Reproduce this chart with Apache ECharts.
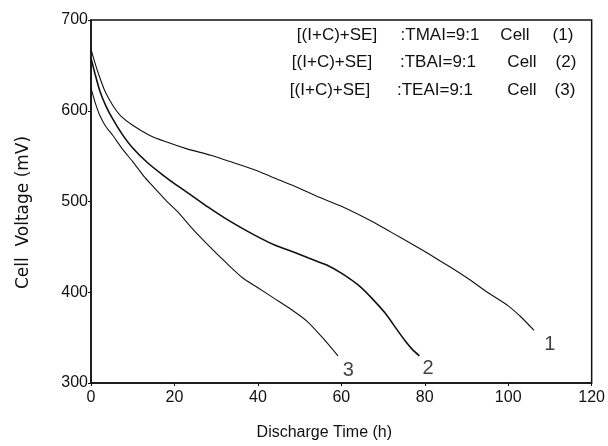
<!DOCTYPE html>
<html><head><meta charset="utf-8">
<script src="https://cdn.jsdelivr.net/npm/echarts@6/dist/echarts.min.js"></script>
<style>html,body{margin:0;padding:0;background:#fff}#c{width:608px;height:446px}</style>
</head><body><div id="c"></div>
<script>
var xTicks = [0, 20, 40, 60, 80, 100, 120];
var yTicks = [300, 400, 500, 600, 700];
var cell1 = [[0,668],[1,652],[2,638],[3.3,622],[5.2,606],[7,595],[10,584],[14,573],[17.8,566],[23,558],[28.7,551],[34,543],[39.8,534],[43.3,527],[48.7,517],[54,506],[60.4,494],[67.4,478],[72,466],[77,453],[81.4,441],[86,428],[90.7,414],[95,400],[100,385],[103,373],[106.2,358]];
var cell2 = [[0,658],[1,640],[2.1,622],[3.5,606],[5.2,591],[7.5,574],[10,559],[13.5,543],[17,530],[20.5,518],[24,507],[28,494],[32,482],[38,466],[44,452],[48.7,444],[52,438],[56.5,430],[60,421],[64.3,407],[67.4,393],[70.5,377],[73,361],[75.2,347],[77,337],[78.7,330]];
var cell3 = [[0,625],[1,609],[2.1,595],[3.5,583],[5.2,573],[7.5,558],[10,544],[13,526],[15.4,514],[18,501],[20.7,489],[24.5,469],[28.5,450],[32.5,432],[36.3,416],[40,405],[44,393],[48,381],[51.8,368],[55.5,350],[59.2,330]];
var curveLabels = [[110,342,'1'],[80.8,316,'2'],[61.7,314,'3']];
var legendPrefix = ['[(I+C)+SE]', '[(I+C)+SE]', '[(I+C)+SE]'];
var legendSalt = [':TMAI=9:1', ':TBAI=9:1', ':TEAI=9:1'];
var legendCell = ['Cell', 'Cell', 'Cell'];
var legendNum = ['(1)', '(2)', '(3)'];

var chart = echarts.init(document.getElementById('c'));
var font = 'Liberation Sans';
function lineSeries(d, w) {
  return {type:'line', data:d, smooth:0.2, showSymbol:false, symbol:'none',
    lineStyle:{color:'#111', width:w}, animation:false, z:3};
}
// layout (pixels) for legend text segments
var rowY = [35, 62, 90];
var prefC = [337, 332, 330];
var saltC = [440, 438, 435];
var cellC = [515, 522, 522];
var numC = [563, 566, 565];
var graphics = [];
for (var i = 0; i < 3; i++) {
  var st = {fontFamily:font, fontSize:17, fill:'#111', textVerticalAlign:'middle', verticalAlign:'middle'};
  function t(txt, x) {
    graphics.push({type:'text', x:x, y:rowY[i], style:Object.assign({text:txt, textAlign:'center', align:'center'}, st)});
  }
  t(legendPrefix[i], prefC[i]);
  t(legendSalt[i], saltC[i]);
  t(legendCell[i], cellC[i]);
  t(legendNum[i], numC[i]);
}
chart.setOption({
  animation:false,
  grid:{left:91, right:10, top:20, bottom:56, show:true, borderColor:'#111', borderWidth:1.5},
  xAxis:{type:'value', min:0, max:120, interval:20,
    name:'Discharge Time (h)', nameLocation:'middle', nameGap:42,
    nameTextStyle:{fontFamily:font, fontSize:16, color:'#111', padding:[0,34,0,0]},
    axisLine:{lineStyle:{color:'#111', width:1.5}}, axisTick:{show:true, length:3, lineStyle:{color:'#111'}},
    splitLine:{show:false},
    axisLabel:{fontFamily:font, fontSize:16, color:'#111', margin:7}},
  yAxis:{type:'value', min:300, max:700, interval:100,
    name:'Cell  Voltage (mV)', nameLocation:'middle', nameGap:59,
    nameTextStyle:{fontFamily:'DejaVu Sans', fontSize:17, color:'#111', padding:[0,22,0,0]},
    axisLine:{lineStyle:{color:'#111', width:1.5}}, axisTick:{show:true, length:3, lineStyle:{color:'#111'}},
    splitLine:{show:false},
    axisLabel:{fontFamily:font, fontSize:16, color:'#111', margin:3}},
  series:[
    lineSeries(cell1, 1.1),
    lineSeries(cell2, 1.6),
    lineSeries(cell3, 1.1),
    {type:'scatter', symbolSize:0, data:curveLabels.map(function(p){return {value:[p[0],p[1]], name:p[2]};}),
      label:{show:true, position:'inside', formatter:function(p){return p.name;}, fontFamily:font, fontSize:20, color:'#111'}}
  ],
  graphic: graphics
});
</script></body></html>
